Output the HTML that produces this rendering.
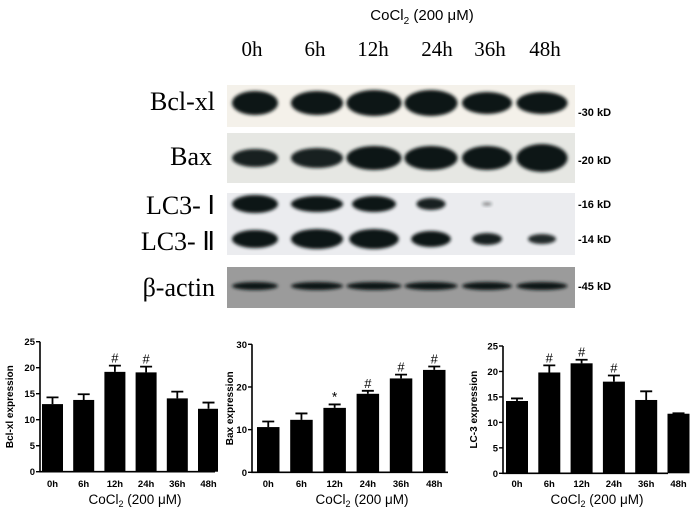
<!DOCTYPE html>
<html><head><meta charset="utf-8">
<style>
html,body{margin:0;padding:0;background:#fff;}
svg{display:block;}
.serif{font-family:"Liberation Serif",serif;}
.sans{font-family:"Liberation Sans",sans-serif;}
</style></head>
<body>
<svg id="fig" width="700" height="514" viewBox="0 0 700 514" xmlns="http://www.w3.org/2000/svg">
<defs>
<filter id="blur" x="-20%" y="-50%" width="140%" height="200%"><feGaussianBlur stdDeviation="1.6"/></filter>
<clipPath id="clip1"><rect x="0" y="320" width="218" height="194"/></clipPath>
</defs>
<text class="sans" x="422" y="20" font-size="15" text-anchor="middle">CoCl<tspan font-size="10" dy="4">2</tspan><tspan dy="-4"> (200 μM)</tspan></text>
<g id="blots"></g>
<g id="charts"></g>
</svg>
<script>
// ---- chart data ----
const categories = ["0h","6h","12h","24h","36h","48h"];
const bclValues = [13.0, 13.8, 19.2, 19.1, 14.1, 12.1];
const bclErrors = [1.3, 1.1, 1.2, 1.1, 1.3, 1.2];
const bclMarks = ["", "", "#", "#", "", ""];
const baxValues = [10.6, 12.3, 15.1, 18.4, 22.0, 24.0];
const baxErrors = [1.3, 1.5, 0.8, 0.7, 0.9, 0.8];
const baxMarks = ["", "", "*", "#", "#", "#"];
const lc3Values = [14.2, 19.8, 21.6, 18.0, 14.4, 11.7];
const lc3Errors = [0.5, 1.4, 0.7, 1.2, 1.7, 0.1];
const lc3Marks = ["", "#", "#", "#", "", ""];
const bclTicks = [0, 5, 10, 15, 20, 25];
const baxTicks = [0, 10, 20, 30];
const lc3Ticks = [0, 5, 10, 15, 20, 25];
const lanes = ["0h","6h","12h","24h","36h","48h"];

const NS = "http://www.w3.org/2000/svg";
function mk(tag, attrs, parent) {
  const e = document.createElementNS(NS, tag);
  for (const k in attrs) e.setAttribute(k, attrs[k]);
  parent.appendChild(e);
  return e;
}
const svg = document.getElementById('fig');
const blots = document.getElementById('blots');
const charts = document.getElementById('charts');

// ---- blot ----
const laneCx = [255, 317, 374, 431, 487, 542];
const laneW = [46, 52, 55, 53, 50, 51];
const labelX = [252, 315, 373, 437, 490, 545];
lanes.forEach((l, i) => {
  const t = mk('text', {x: labelX[i], y: 56, 'font-size': 21, 'text-anchor': 'middle', class: 'serif'}, blots);
  
  
  t.textContent = l;
});
const panels = [
  {name: 'bcl-xl-panel', y: 85, h: 42, fill: '#f4f1ea'},
  {name: 'bax-panel', y: 133, h: 50, fill: '#e6e7e3'},
  {name: 'lc3-panel', y: 193, h: 62, fill: '#ebecef'},
  {name: 'beta-actin-panel', y: 267, h: 41, fill: '#9b9b9b'}
];
panels.forEach(p => {
  const r = mk('rect', {x: 227, y: p.y, width: 348, height: p.h, fill: p.fill}, blots);
  
  
});
const bandRows = [
  {name: 'bcl-xl', cy: 103, ry: [12,12,13,13,11,11], op: [1,1,1,1,1,1]},
  {name: 'bax', cy: 158, ry: [9,10,12,12,12,14], op: [0.95,0.95,1,1,1,1]},
  {name: 'lc3-i', cy: 204, ry: [9,8,8,6,2,0], op: [1,1,1,0.95,0.4,0]},
  {name: 'lc3-ii', cy: 239, ry: [9,10,10,8,6,5], op: [1,1,1,1,0.95,0.9]},
  {name: 'beta-actin', cy: 286, ry: [4,4,4,4,4,4], op: [1,1,1,1,1,1]}
];
const lc3Scale = [1, 1, 0.9, 0.75, 0.6, 0.55];
bandRows.forEach(row => {
  lanes.forEach((l, i) => {
    if (row.op[i] === 0) return;
    let w = laneW[i] / 2;
    if (row.name === 'lc3-i') w = laneW[i] / 2 * [1,1,0.8,0.55,0.2,0][i];
    if (row.name === 'lc3-ii') w = laneW[i] / 2 * lc3Scale[i];
    const e = mk('ellipse', {cx: laneCx[i], cy: row.cy, rx: w, ry: row.ry[i], fill: '#0d1414', opacity: row.op[i], filter: 'url(#blur)'}, blots);
    
    
  });
});
const rowLabels = [
  {t: 'Bcl-xl', y: 110, x: 215},
  {t: 'Bax', y: 165, x: 212},
  {t: 'LC3- Ⅰ', y: 214, x: 215},
  {t: 'LC3- Ⅱ', y: 250, x: 215},
  {t: 'β-actin', y: 296, x: 215}
];
rowLabels.forEach(r => {
  const t = mk('text', {x: r.x, y: r.y, 'font-size': 26, 'text-anchor': 'end', class: 'serif'}, blots);
  
  
  t.textContent = r.t;
});
const kd = [{t: '-30 kD', y: 116}, {t: '-20 kD', y: 164}, {t: '-16 kD', y: 208}, {t: '-14 kD', y: 243}, {t: '-45 kD', y: 290}];
kd.forEach(k => {
  const t = mk('text', {x: 578, y: k.y, 'font-size': 11, 'font-weight': 'bold', class: 'sans'}, blots);
  
  
  t.textContent = k.t;
});

// ---- bar charts ----
function barChart(cfg) {
  const g = mk('g', {}, charts);
  
  
  if (cfg.clip) g.setAttribute('clip-path', cfg.clip);
  const y = v => cfg.y0 - (v / cfg.max) * (cfg.y0 - cfg.yTop);
  const bx = i => cfg.firstLeft + i * cfg.step;
  cfg.values.forEach((v, i) => {
    const x = bx(i), cx = x + cfg.bw / 2;
    const r = mk('rect', {x: x, y: y(v), width: cfg.bw, height: cfg.y0 - y(v), fill: '#000'}, g);
    
    
    const et = y(v + cfg.errors[i]);
    const el = mk('path', {d: `M${cx},${y(v)}V${et}M${cx-6},${et}H${cx+6}`, stroke: '#000', 'stroke-width': 1.8, fill: 'none'}, g);
    
    
    if (cfg.marks[i]) {
      const m = mk('text', {x: cx, y: et - 3, 'font-size': cfg.marks[i] === '*' ? 14 : 13, 'text-anchor': 'middle', class: 'sans'}, g);
      
      
      m.textContent = cfg.marks[i];
    }
    const tl = mk('text', {x: cx, y: 487, 'font-size': 9.5, 'font-weight': 'bold', 'text-anchor': 'middle', class: 'sans'}, g);
    
    
    tl.textContent = categories[i];
  });
  const ax = mk('path', {d: `M${cfg.x0},${cfg.yTop}V${cfg.y0}H${cfg.xEnd}`, stroke: '#000', 'stroke-width': 1.6, fill: 'none'}, g);
  
  
  cfg.ticks.forEach(t => {
    const tk = mk('line', {x1: cfg.x0 - 4, x2: cfg.x0, y1: y(t), y2: y(t), stroke: '#000', 'stroke-width': 1.4}, g);
    
    
    const tl = mk('text', {x: cfg.x0 - 5, y: y(t) + 3.5, 'font-size': 9.5, 'font-weight': 'bold', 'text-anchor': 'end', class: 'sans'}, g);
    
    
    tl.textContent = t;
  });
  const yl = mk('text', {x: 0, y: 0, 'font-size': 10, 'font-weight': 'bold', 'text-anchor': 'middle', class: 'sans', transform: `translate(${cfg.ylx},${(cfg.y0 + cfg.yTop) / 2}) rotate(-90)`}, g);
  
  
  yl.textContent = cfg.ylabel;
  const xt = mk('text', {x: cfg.xtx, y: 504, 'font-size': 13.5, 'text-anchor': 'middle', class: 'sans'}, charts);
  
  
  xt.innerHTML = 'CoCl<tspan font-size="9" dy="3">2</tspan><tspan dy="-3"> (200 μM)</tspan>';
}
barChart({name: 'bcl-xl-chart', values: bclValues, errors: bclErrors, marks: bclMarks, ticks: bclTicks, max: 25,
  x0: 40, xEnd: 215, y0: 471.7, yTop: 341.7, firstLeft: 42, step: 31.2, bw: 21, ylx: 13, xtx: 135, ylabel: 'Bcl-xl expression', clip: 'url(#clip1)'});
barChart({name: 'bax-chart', values: baxValues, errors: baxErrors, marks: baxMarks, ticks: baxTicks, max: 30,
  x0: 252, xEnd: 448, y0: 472.3, yTop: 344.3, firstLeft: 257, step: 33.2, bw: 22.5, ylx: 233, xtx: 362, ylabel: 'Bax expression'});
barChart({name: 'lc3-chart', values: lc3Values, errors: lc3Errors, marks: lc3Marks, ticks: lc3Ticks, max: 25,
  x0: 503, xEnd: 668, y0: 473.3, yTop: 346, firstLeft: 506, step: 32.3, bw: 22, ylx: 477, xtx: 597, ylabel: 'LC-3 expression'});
</script>
</body></html>
